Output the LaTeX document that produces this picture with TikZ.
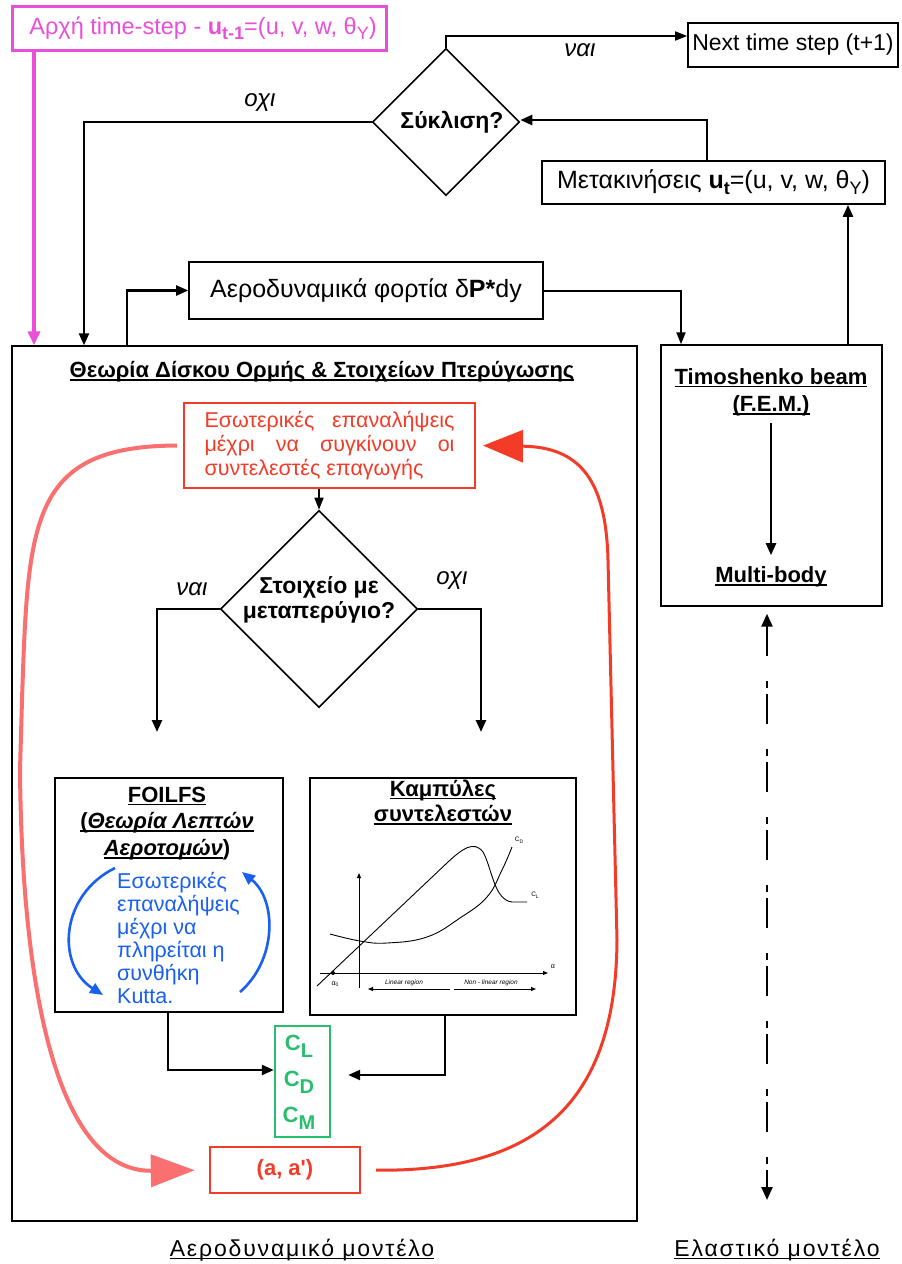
\documentclass[tikz,border=0pt]{standalone}
\usepackage{fontspec}
\setmainfont{Liberation Sans}
\usetikzlibrary{arrows.meta,shapes.geometric,calc}
\definecolor{mag}{RGB}{233,79,217}
\definecolor{redc}{RGB}{242,60,40}
\definecolor{salmonc}{RGB}{250,112,112}
\definecolor{greenc}{RGB}{40,190,110}
\definecolor{bluec}{RGB}{25,95,240}
\newlength\ulw
\newcommand\myul[1]{\settowidth\ulw{#1}\rlap{\rule[-3pt]{\ulw}{1.4pt}}#1}
\newcommand\myfs[1]{\fontsize{#1}{#1}\selectfont}
\newcommand\sbs[3]{\raisebox{-#1}{\fontsize{#2}{#2}\selectfont #3}}
\begin{document}
\begin{tikzpicture}[x=1pt,y=-1pt,
  box/.style={draw, line width=1.6pt, inner sep=0pt},
  arr/.style={line width=2.4pt, -{Triangle[length=12pt,width=10pt]}},
  arrthin/.style={line width=1.6pt, -{Triangle[length=12pt,width=9pt]}},
  lbl/.style={font=\myfs{24}\itshape},
  ttl/.style={font=\myfs{22}\bfseries},
  gline/.style={line width=0.9pt},
  garr/.style={line width=0.9pt, -{Triangle[length=5pt,width=4pt]}},
  glbl/.style={font=\myfs{6.5}\itshape, inner sep=0pt},
  bluearr/.style={draw=bluec, line width=2.6pt, -{Triangle[length=13pt,width=11pt]}}
]
\useasboundingbox[fill=white] (0,0) rectangle (902,1264);

% helper coordinates
\coordinate (px) at (34,0);
\coordinate (c84) at (84,0);
\coordinate (c127) at (127,0);
\coordinate (c681) at (681,0);
\coordinate (c707) at (707,0);
\coordinate (c848) at (848,0);
\coordinate (dx) at (767,0);
\coordinate (dend) at (767,1200);
\coordinate (yesl) at (157,732);
\coordinate (nor) at (481,732);
\coordinate (j1) at (168,1070);
\coordinate (j2) at (445,1075);

% top part
\node[box, draw=mag, line width=3pt, minimum width=374pt, minimum height=44pt, text=mag, font=\myfs{23.5}] (start) at (199,28)
  {\hspace{8pt}Αρχή time-step - \textbf{u\sbs{5pt}{18}{t-1}}=(u, v, w, θ\sbs{5pt}{18}{Y})};
\node[box, minimum width=210pt, minimum height=44pt, font=\myfs{23}] (next) at (793,45) {Next time step (t+1)};
\node[diamond, draw, line width=1.6pt, minimum width=147pt, minimum height=147pt, inner sep=0pt] (d1) at (446,122) {};
\node[font=\myfs{23}\bfseries] (d1t) at (452,122) {Σύκλιση?};
\node[box, minimum width=343pt, minimum height=43pt, font=\myfs{25}] (met) at (713.5,182.5)
  {Μετακινήσεις \textbf{u\sbs{6pt}{18}{t}}=(u, v, w, θ\sbs{6pt}{18}{Y})};
\node[box, minimum width=354pt, minimum height=57pt, font=\myfs{25}] (aer) at (366,290.5) {Αεροδυναμικά φορτία δ\textbf{P*}dy};

\node[lbl] (no1) at (260,103) {οχι};
\node[lbl] (yes1) at (580,50) {ναι};

% main boxes
\node[box, line width=1.4pt, minimum width=625pt, minimum height=875pt] (main) at (324.5,783.5) {};
\node[ttl] (title) at (322,372) {\myul{Θεωρία Δίσκου Ορμής \& Στοιχείων Πτερύγωσης}};

\node[box, line width=1.4pt, minimum width=221pt, minimum height=261pt] (timo) at (771.5,475.5) {};
\node[ttl] (tb1) at (771,378) {\myul{Timoshenko beam}};
\node[ttl] (tb2) at (771,406) {\myul{(F.E.M.)}};
\node[ttl] (mb) at (771,577) {\myul{Multi-body}};

% top connectors
\draw[mag, line width=4pt, -{Triangle[length=14pt,width=12pt]}] (start.south -| px) -- (main.north -| px);
\draw[arr] (d1.west) -| (c84 |- main.north);
\draw[arrthin] (d1.north) |- ($(next.west)+(0,-9)$);
\draw[arr] (met.north -| c707) |- ($(d1.east)+(0,-2)$);
\draw[arr] (timo.north -| c848) -- (met.south -| c848);
\draw[arr] (main.north -| c127) |- (aer.west);
\draw[arrthin, line width=2pt] (aer.east) -| (c681 |- timo.north);
\draw[arr, shorten <=3pt, shorten >=8pt] (tb2.south) -- (mb.north);
\draw[line width=2.4pt, dash pattern=on 30pt off 25pt on 7pt off 6pt,
  {Triangle[length=13pt,width=11pt]}-{Triangle[length=13pt,width=11pt]}, shorten <=7pt] (timo.south -| dx) -- (dend);

% inner flow
\node[box, draw=redc, line width=2pt, minimum width=291pt, minimum height=85pt, text=redc, text width=250pt,
  align=justify, font=\fontsize{21.5}{24}\selectfont] (rb) at (329.5,445.5)
  {Εσωτερικές επαναλήψεις\linebreak μέχρι να συγκίνουν οι\linebreak συντελεστές επαγωγής};
\node[diamond, draw, line width=1.6pt, minimum width=197pt, minimum height=197pt, inner sep=0pt] (d2) at (319,609) {};
\node[font=\fontsize{23}{25}\selectfont\bfseries, align=center] (d2t) at (319,600) {Στοιχείο με\\μεταπερύγιο?};
\node[lbl] (yes2) at (192,589) {ναι};
\node[lbl] (no2) at (452,581) {οχι};
\draw[arrthin] (rb.south -| d2.north) -- (d2.north);
\draw[arr] (d2.west) -| (yesl);
\draw[arr] (d2.east) -| (nor);

% FOILFS
\node[box, minimum width=228pt, minimum height=234pt] (foil) at (169,895) {};
\node[ttl] (f1) at (167,796) {\myul{FOILFS}};
\node[ttl] (f2) at (167,823) {\myul{(\textit{Θεωρία Λεπτών}}};
\node[ttl] (f3) at (167,850) {\myul{\textit{Αεροτομών}})};
\node[text=bluec, font=\fontsize{21.5}{23}\selectfont, align=left, anchor=north west, inner sep=0pt] (ft) at (117,872)
  {Εσωτερικές\\επαναλήψεις\\μέχρι να\\πληρείται η\\συνθήκη\\Kutta.};
\draw[bluearr] (115,868) .. controls (60,895) and (56,965) .. (103,995);
\draw[bluearr] (240,992) .. controls (277,960) and (277,900) .. (242,872);

% Curves box
\node[box, minimum width=266pt, minimum height=237pt] (kamp) at (443,896.5) {};
\node[ttl] (k1) at (443,790) {\myul{Καμπύλες}};
\node[ttl] (k2) at (443,815) {\myul{συντελεστών}};
\draw[garr] (320,973) -- (548,973);
\draw[garr] (359,988) -- (359,873);
\fill (333,973) circle (2pt);
\draw[gline] (317,986) -- (448,862) .. controls (462,849) and (474,840) .. (483,852) .. controls (492,868) and (494,900) .. (512,902) -- (527,902);
\draw[gline] plot[smooth, tension=0.7] coordinates {(330,934) (360,941) (387,943) (427,937) (460,918) (487,897) (502,870) (512,847)};
\draw[garr] (450,989) -- (368,989);
\draw[garr] (454,989) -- (536,989);
\node[glbl, font=\myfs{6.5}] (lcd) at (519,840) {C\sbs{1.5pt}{5}{D}};
\node[glbl, font=\myfs{6.5}] (lcl) at (535,895) {C\sbs{1.5pt}{5}{L}};
\node[glbl, font=\myfs{7}] (lal) at (553,967) {α};
\node[glbl, font=\myfs{7}] (la0) at (335,984) {α\sbs{1.5pt}{5}{0}};
\node[glbl] (llin) at (404,983) {Linear region};
\node[glbl] (lnl) at (491,983) {Non - linear region};

% coefficients
\node[box, draw=greenc, line width=2.4pt, minimum width=55pt, minimum height=111pt] (green) at (302.5,1081.5) {};
\node[font=\myfs{22}\bfseries, text=greenc] (cl) at (299,1046) {C\sbs{7pt}{20}{L}};
\node[font=\myfs{22}\bfseries, text=greenc] (cd) at (299,1082) {C\sbs{7pt}{20}{D}};
\node[font=\myfs{22}\bfseries, text=greenc] (cm) at (299,1118) {C\sbs{7pt}{20}{M}};
\draw[arr] (foil.south -| j1) |- (green.west |- j1);
\draw[arr, shorten >=17pt] (kamp.south -| j2) |- (green.east |- j2);

\node[box, draw=redc, line width=2.4pt, minimum width=150pt, minimum height=46pt, text=redc, font=\myfs{22}\bfseries] (ab) at (285,1170) {(a, a\textquotesingle)};

% loop curves
\draw[salmonc, line width=4pt, -{Triangle[length=44pt,width=32pt]}, shorten <=6pt, shorten >=14pt]
  (rb.west) .. controls (30,446) and (28,520) .. (22,700) -- (20,770) .. controls (22,1000) and (60,1172) .. (ab.west);
\draw[redc, line width=3pt, -{Triangle[length=40pt,width=32pt]}, shorten <=15pt, shorten >=7pt]
  (ab.east) .. controls (540,1172) and (616,1100) .. (617,940) -- (608,560) .. controls (606,480) and (580,447) .. (rb.east);

% bottom labels
\node[font=\myfs{23}\addfontfeature{LetterSpace=8}] (aml) at (302,1250) {\myul{Αεροδυναμικό μοντέλο}};
\node[font=\myfs{23}\addfontfeature{LetterSpace=8}] (eml) at (777,1250) {\myul{Ελαστικό μοντέλο}};
\end{tikzpicture}
\end{document}
